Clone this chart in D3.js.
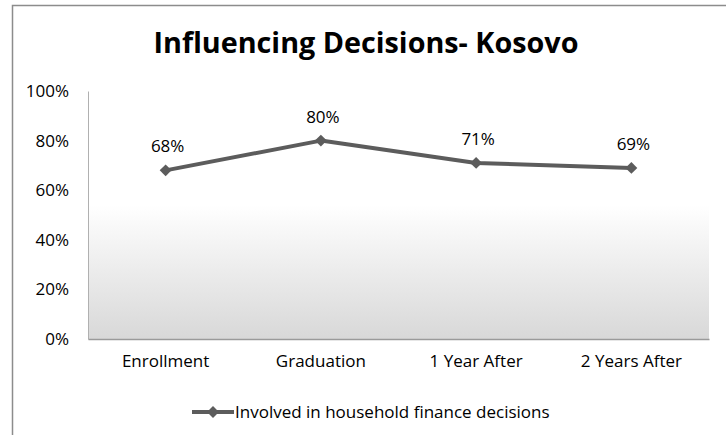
<!DOCTYPE html>
<html>
<head>
<meta charset="utf-8">
<script src="https://cdn.jsdelivr.net/npm/d3@7"></script>
<style>
  body { margin: 0; background: #fff; }
  svg { display: block; font-family: "Open Sans", "Noto Sans", sans-serif; }
</style>
</head>
<body>
<div id="app"></div>
<script>
const categories = ['Enrollment', 'Graduation', '1 Year After', '2 Years After'];
const values = [0.68, 0.80, 0.71, 0.69];
const yTicks = [0, 0.2, 0.4, 0.6, 0.8, 1.0];
const seriesName = 'Involved in household finance decisions';
const title = 'Influencing Decisions- Kosovo';

const width = 726;
const height = 435;
const plot = { left: 88, right: 709, top: 91, bottom: 339 };

const svg = d3.select('#app')
  .append('svg')
  .attr('width', width)
  .attr('height', height);

// chart frame (runs past the picture on the right and bottom)
svg.append('rect')
  .attr('x', 12.5).attr('y', 5.5)
  .attr('width', 740).attr('height', 460)
  .attr('fill', '#fff')
  .attr('stroke', '#8c8c8c')
  .attr('stroke-width', 1.5);

const defs = svg.append('defs');
const grad = defs.append('linearGradient')
  .attr('id', 'bg').attr('x1', 0).attr('y1', 0).attr('x2', 0).attr('y2', 1);
grad.append('stop').attr('offset', '0%').attr('stop-color', '#ffffff');
grad.append('stop').attr('offset', '46%').attr('stop-color', '#ffffff');
grad.append('stop').attr('offset', '100%').attr('stop-color', '#d8d8d8');

const xScale = d3.scaleBand()
  .domain(categories)
  .range([plot.left, plot.right]);

const yScale = d3.scaleLinear()
  .domain([0, 1])
  .range([plot.bottom, plot.top]);

// plot area
svg.append('rect')
  .attr('x', plot.left).attr('y', plot.top)
  .attr('width', plot.right - plot.left)
  .attr('height', plot.bottom - plot.top)
  .attr('fill', 'url(#bg)');

// title, sized so it spans about the same width as the original
const t = svg.append('text')
  .attr('x', 366).attr('y', 53)
  .attr('text-anchor', 'middle')
  .attr('font-size', 100)
  .attr('font-weight', 'bold')
  .attr('fill', '#000')
  .text(title);
const tw = t.node().getComputedTextLength();
t.attr('font-size', 100 * 425 / tw);

/* y axis */
const yAxis = svg.append('g')
  .attr('transform', `translate(${plot.left}, 0)`)
  .call(d3.axisLeft(yScale).tickValues(yTicks).tickFormat(d3.format('.0%')).tickSize(0).tickPadding(19));
yAxis.select('.domain').attr('stroke', '#b0b0b0').attr('stroke-width', 1);
yAxis.selectAll('text').attr('font-size', 17).attr('fill', '#000').attr('font-family', 'Open Sans');

/* x axis */
const xAxis = svg.append('g')
  .attr('transform', `translate(0, ${plot.bottom})`)
  .call(d3.axisBottom(xScale).tickSize(0).tickPadding(16));
xAxis.select('.domain').attr('stroke', '#9a9a9a').attr('stroke-width', 1.5);
xAxis.selectAll('text').attr('font-size', 17).attr('fill', '#000').attr('font-family', 'Open Sans');

const cx = d => xScale(d) + xScale.bandwidth() / 2;
const points = categories.map((c, i) => ({ c, v: values[i] }));

const line = d3.line()
  .x(d => cx(d.c))
  .y(d => yScale(d.v));

svg.append('path')
  .datum(points)
  .attr('d', line)
  .attr('fill', 'none')
  .attr('stroke', '#5c5c5c')
  .attr('stroke-width', 4)
  .attr('stroke-linejoin', 'round');

const diamond = d3.symbol().type(d3.symbolDiamond2).size(90);

svg.append('g')
  .selectAll('path')
  .data(points)
  .join('path')
  .attr('transform', d => `translate(${cx(d.c)}, ${yScale(d.v)})`)
  .attr('d', diamond)
  .attr('fill', '#5c5c5c');

svg.append('g')
  .selectAll('text')
  .data(points)
  .join('text')
  .attr('x', d => cx(d.c) + 2)
  .attr('y', d => yScale(d.v) - 18)
  .attr('text-anchor', 'middle')
  .attr('font-size', 17)
  .attr('fill', '#000')
  .text(d => d3.format('.0%')(d.v));

// legend
const lg = svg.append('g').attr('transform', 'translate(192, 412)');
lg.append('line')
  .attr('x1', 0).attr('x2', 42).attr('y1', 0).attr('y2', 0)
  .attr('stroke', '#5c5c5c').attr('stroke-width', 4);
lg.append('path')
  .attr('transform', 'translate(21, 0)')
  .attr('d', diamond)
  .attr('fill', '#5c5c5c');
lg.append('text')
  .attr('x', 43).attr('y', 6)
  .attr('font-size', 17)
  .attr('fill', '#000')
  .text(seriesName);
</script>
</body>
</html>
